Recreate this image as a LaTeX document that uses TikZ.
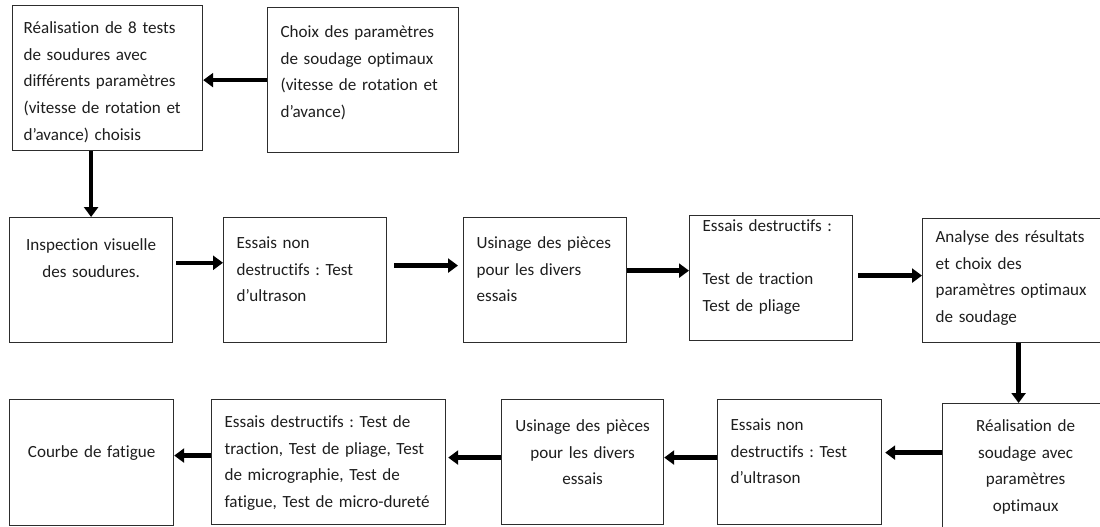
\documentclass[tikz,border=0pt]{standalone}
\usepackage{fontspec}
\setmainfont{Carlito}[Ligatures=NoCommon]
\frenchspacing
\usetikzlibrary{arrows.meta}
\definecolor{ink}{RGB}{30,30,30}
\definecolor{frame}{RGB}{45,45,45}
\tikzset{
  stage/.style = {draw=frame, line width=0.9pt, anchor=north west, text=ink,
                  inner xsep=9.75pt, inner ysep=0pt, align=left,
                  font=\fontsize{12.8pt}{20pt}\selectfont},
  mid/.style   = {align=center},
  % width, text width, first baseline, room below it
  dims/.style n args={4}{minimum width=#1, text width=#2,
                  text height=#3, text depth=#4},
  flow/.style  = {-{Triangle[length=7.5pt,width=10.5pt]}, line width=3.4pt, draw=black},
}

\begin{document}
\begin{tikzpicture}[x=0.75pt, y=-0.75pt]
\clip (0,0) rectangle (1100,526);
\fill[white] (0,0) rectangle (1100,526);

% first trials
\node[stage, inner xsep=8.25pt, dims={142.5pt}{126pt}{21pt}{87.75pt}] (a) at (12,5)
  {Réalisation de 8 tests\\de soudures avec\\différents paramètres\\(vitesse de rotation et\\d’avance) choisis};
\node[stage, dims={143.25pt}{123.75pt}{22.5pt}{86.25pt}] (b) at (267,7)
  {Choix des paramètres\\de soudage optimaux\\(vitesse de rotation et\\d’avance)};

% control chain
\node[stage, mid, dims={122.25pt}{102.75pt}{24.75pt}{69pt}] (c) at (9,217)
  {Inspection visuelle\\des soudures.};
\node[stage, dims={122.25pt}{102.75pt}{23.25pt}{70.5pt}] (d) at (223,217)
  {Essais non\\destructifs : Test\\d’ultrason};
\node[stage, dims={122.25pt}{102.75pt}{23.25pt}{70.5pt}] (e) at (463,217)
  {Usinage des pièces\\pour les divers\\essais};
\node[stage, dims={122.25pt}{102.75pt}{12pt}{81.75pt}] (f) at (689,215)
  {Essais destructifs :\\[20pt]Test de traction\\Test de pliage};
\node[stage, dims={144pt}{124.5pt}{18pt}{75pt}] (g) at (922,218)
  {Analyse des résultats\\et choix des\\paramètres optimaux\\de soudage};

% final run, right to left
\node[stage, mid, dims={124.5pt}{105pt}{21pt}{84pt}] (l) at (942,403)
  {Réalisation de\\soudage avec\\paramètres\\optimaux};
\node[stage, dims={123pt}{103.5pt}{23.25pt}{70.5pt}] (k) at (717,399)
  {Essais non\\destructifs : Test\\d’ultrason};
\node[stage, mid, dims={121.5pt}{102pt}{24pt}{69.75pt}] (j) at (501,399)
  {Usinage des pièces\\pour les divers\\essais};
\node[stage, dims={175.5pt}{156pt}{21pt}{72.75pt}] (i) at (211,399)
  {Essais destructifs : Test de\\traction, Test de pliage, Test\\de micrographie, Test de\\fatigue, Test de micro-dureté};
\node[stage, mid, dims={123pt}{103.5pt}{43.5pt}{51pt}] (h) at (9,399)
  {Courbe de fatigue};

\draw[flow] (b.west) -- (a.east |- b.west);
\draw[flow] (a.south -| c.north) -- (c.north);
\draw[flow, shorten <=2.25pt] ([yshift=13pt]c.east) -- ([yshift=13pt]d.west);
\draw[flow, shorten <=5.25pt, shorten >=3.75pt] ([yshift=10.9pt]d.east) -- ([yshift=10.9pt]e.west);
\draw[flow] ([yshift=7.1pt]e.east) -- ([yshift=7.1pt]e.east -| f.west);
\draw[flow, shorten <=3.75pt] ([yshift=1.9pt]f.east) -- ([yshift=1.9pt]f.east -| g.west);
\draw[flow] (g.south) -- (g.south |- l.north);
\draw[flow, shorten >=2.25pt] ([yshift=15.75pt]l.west) -- ([yshift=15.75pt]l.west -| k.east);
\draw[flow] ([yshift=3.4pt]k.west) -- ([yshift=3.4pt]k.west -| j.east);
\draw[flow, shorten >=1.5pt] ([yshift=3.4pt]j.west) -- ([yshift=3.4pt]j.west -| i.east);
\draw[flow] ([yshift=4.9pt]i.west) -- ([yshift=4.9pt]i.west -| h.east);
\end{tikzpicture}
\end{document}
